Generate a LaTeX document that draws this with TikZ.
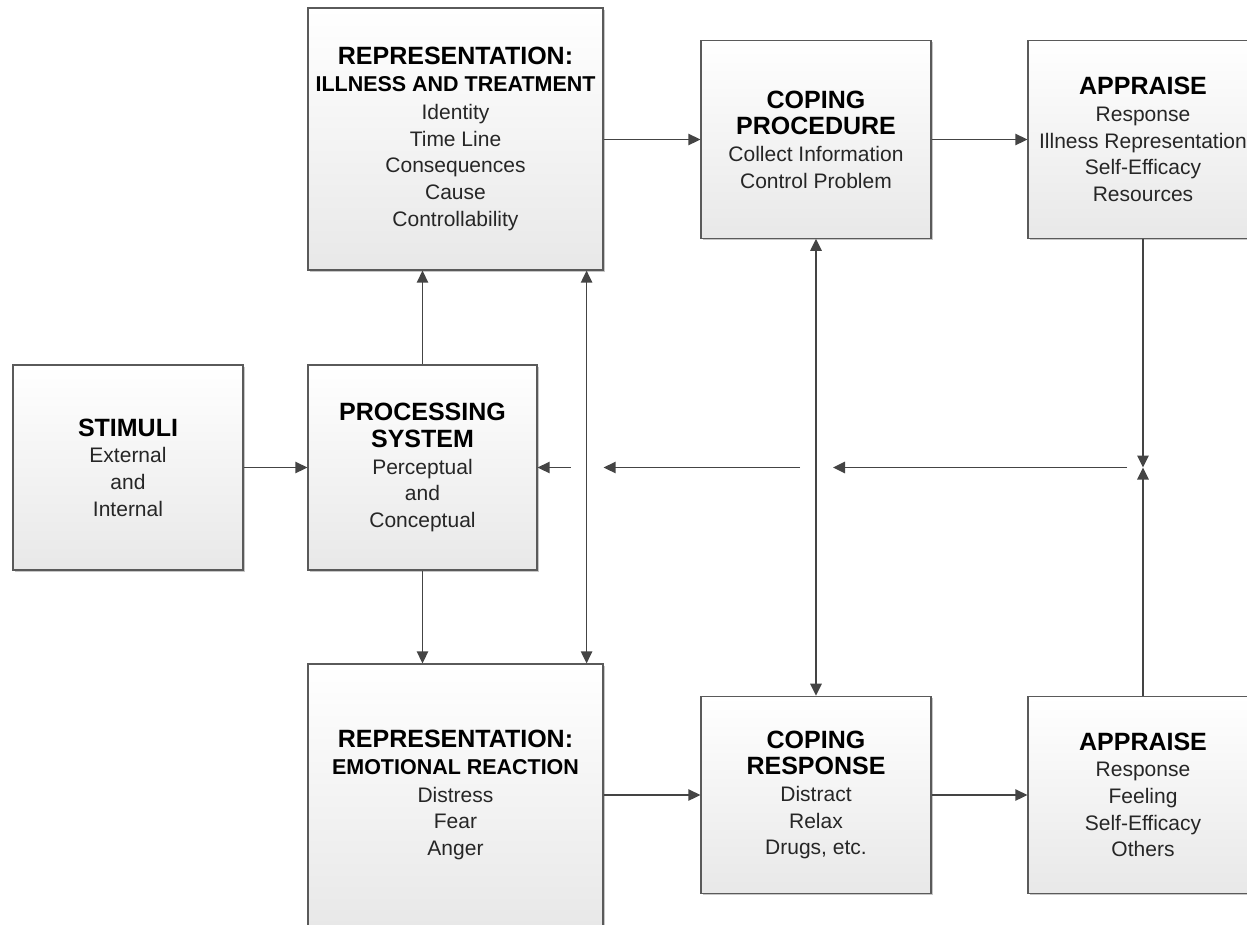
\documentclass[tikz,border=0pt]{standalone}
\usepackage{fontspec}
\setmainfont{Liberation Sans}
\usetikzlibrary{arrows.meta,shadows}
\definecolor{linegray}{HTML}{444444}
\definecolor{boxedge}{HTML}{5A5A5A}
\definecolor{bodytext}{HTML}{262626}
\newcommand\boxtitle[1]{{\fontsize{18.75}{20}\selectfont\bfseries\color{black}#1}}
\newcommand\boxsub[1]{{\fontsize{16.1}{20}\selectfont\bfseries\color{black}#1}}
\begin{document}
\begin{tikzpicture}[x=0.75pt,y=-0.75pt,
  box/.style={draw=boxedge, line width=0.9pt, top color=white, bottom color=black!9,
    drop shadow={shadow xshift=1.2pt, shadow yshift=-1.2pt, opacity=0.22, fill=black},
    align=center, inner sep=0pt, text=bodytext,
    font=\fontsize{15.75}{20}\selectfont},
  small/.style={box, minimum width=172.5pt, minimum height=148pt},
  tall/.style={box, minimum width=221.25pt, minimum height=196.5pt},
  tip/.tip={Triangle[length=9pt,width=8.5pt]},
  arr/.style={draw=linegray, line width=1.2pt, -tip, color=linegray},
  darr/.style={draw=linegray, line width=1.2pt, tip-tip, color=linegray}]

\useasboundingbox (0,0) rectangle (1247,925);
\clip (0,0) rectangle (1247,925);

% boxes
\node[box, minimum width=172.5pt, minimum height=153.75pt] (stim) at (128,467.5)
  {\boxtitle{STIMULI}\\External\\and\\Internal};
\node[box, minimum width=171.75pt, minimum height=153.75pt] (proc) at (422.5,467.5)
  {\boxtitle{PROCESSING}\\\boxtitle{SYSTEM}\\Perceptual\\and\\Conceptual};
\node[tall] (repill) at (455.5,139)
  {\boxtitle{REPRESENTATION:}\\\boxsub{ILLNESS AND TREATMENT}\\[1pt]Identity\\Time Line\\Consequences\\Cause\\Controllability};
\node[tall] (repemo) at (455.5,795)
  {\boxtitle{REPRESENTATION:}\\\boxsub{EMOTIONAL REACTION}\\[1pt]Distress\\Fear\\Anger};
\node[small] (copproc) at (816,139.5)
  {\boxtitle{COPING}\\\boxtitle{PROCEDURE}\\Collect Information\\Control Problem};
\node[small] (coprsp) at (816,795)
  {\boxtitle{COPING}\\\boxtitle{RESPONSE}\\Distract\\Relax\\Drugs, etc.};
\node[small] (appr1) at (1143,139.5)
  {\boxtitle{APPRAISE}\\Response\\Illness Representation\\Self-Efficacy\\Resources};
\node[small] (appr2) at (1143,795)
  {\boxtitle{APPRAISE}\\Response\\Feeling\\Self-Efficacy\\Others};

% helper points
\coordinate (v1) at ([xshift=-12.75pt]repill.south east);
\coordinate (j) at (appr1.south |- proc.east);
\coordinate (g1) at (copproc.south |- proc.east);
\coordinate (g2) at (v1 |- proc.east);

% forward connectors
\draw[arr] (stim.east) -- (proc.west);
\draw[arr] (proc.north) -- (proc.north |- repill.south);
\draw[arr] (proc.south) -- (proc.south |- repemo.north);
\draw[darr] (v1) -- (v1 |- repemo.north);
\draw[arr] (repill.east |- copproc.west) -- (copproc.west);
\draw[arr] (copproc.east) -- (appr1.west);
\draw[darr] (copproc.south) -- (coprsp.north);
\draw[arr] (repemo.east |- coprsp.west) -- (coprsp.west);
\draw[arr] (coprsp.east) -- (appr2.west);

% feedback loop
\draw[arr] (appr1.south) -- (j);
\draw[arr] (appr2.north) -- (j);
\draw[arr] ([xshift=-12pt]j) -- ([xshift=12.75pt]g1);
\draw[arr] ([xshift=-12pt]g1) -- ([xshift=12.75pt]g2);
\draw[arr] ([xshift=-12pt]g2) -- (proc.east);
\end{tikzpicture}
\end{document}
